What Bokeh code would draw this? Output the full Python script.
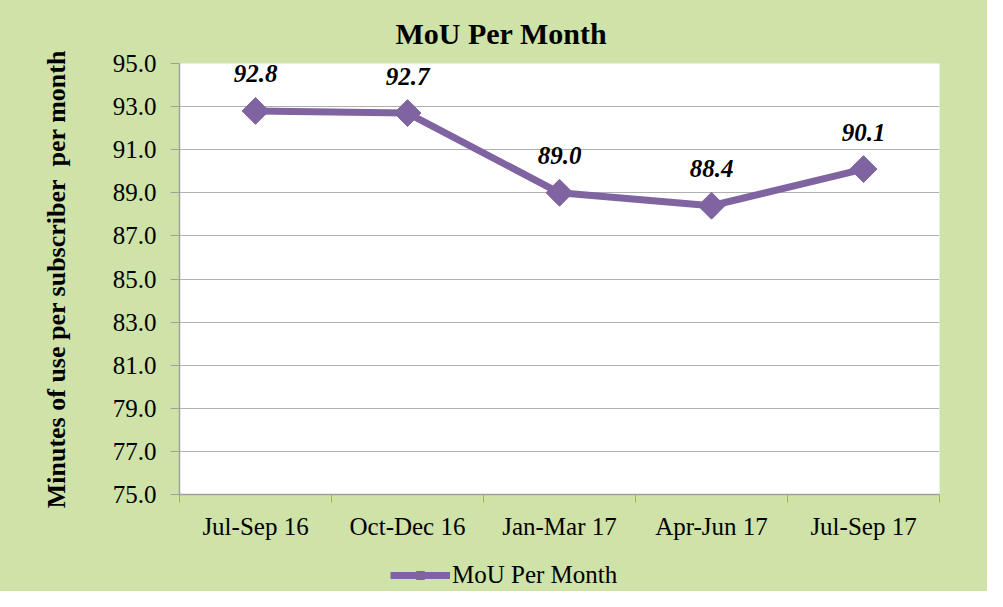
import math
from bokeh.plotting import figure
from bokeh.layouts import column
from bokeh.models import (FixedTicker, Legend, LegendItem, ColumnDataSource, Range1d,
                          CustomJSTickFormatter)
from bokeh.core.properties import value
from bokeh.embed import file_html
from bokeh.resources import INLINE

categories = ["Jul-Sep 16", "Oct-Dec 16", "Jan-Mar 17", "Apr-Jun 17", "Jul-Sep 17"]
mou = [92.8, 92.7, 89.0, 88.4, 90.1]
y_ticks = [75, 77, 79, 81, 83, 85, 87, 89, 91, 93, 95]
series_name = "MoU Per Month"

GREEN = "#cfe2a8"
PURPLE = "#8064a2"
SERIF = "Liberation Serif"

xs = list(range(1, len(categories) + 1))
src = ColumnDataSource(dict(x=xs, y=mou, lbl=["%.1f" % v for v in mou]))

p = figure(width=987, height=545, output_backend="svg", toolbar_location=None,
           x_range=Range1d(0.5, len(categories) + 0.5), y_range=Range1d(75, 95),
           min_border_left=179, min_border_right=48, min_border_top=62, min_border_bottom=51,
           styles={"background-color": GREEN})
p.background_fill_color = "white"
p.border_fill_color = GREEN
p.outline_line_color = None

p.title.text = "MoU Per Month"
p.title.text_font = SERIF
p.title.text_font_size = "30px"
p.title.text_font_style = "bold"
p.title.text_color = "black"
p.title.align = "left"
p.title.offset = 216
p.title.standoff = 28

# y axis
p.yaxis.ticker = FixedTicker(ticks=y_ticks)
p.yaxis.formatter = CustomJSTickFormatter(code="return tick.toFixed(1);")
p.yaxis.axis_label = "Minutes of use per subscriber\u00a0 per month"
p.yaxis.axis_label_text_font = SERIF
p.yaxis.axis_label_text_font_size = "26px"
p.yaxis.axis_label_text_font_style = "bold"
p.yaxis.axis_label_text_color = "black"
p.yaxis.axis_label_standoff = 39
p.yaxis.major_label_text_font = SERIF
p.yaxis.major_label_text_font_size = "25px"
p.yaxis.major_label_text_color = "black"
p.yaxis.major_label_standoff = 14
p.yaxis.major_tick_out = 9
p.yaxis.major_tick_in = 0
p.yaxis.minor_tick_line_color = None
p.yaxis.axis_line_color = "#a0a0a0"
p.yaxis.major_tick_line_color = "#a0a0a0"
p.yaxis.axis_line_width = 1.5

# x axis: labels at centres, tick marks between categories
p.xaxis.ticker = FixedTicker(ticks=xs, minor_ticks=[i + 0.5 for i in range(len(categories) + 1)])
p.xaxis.major_label_overrides = {i + 1: c for i, c in enumerate(categories)}
p.xaxis.major_tick_out = 0
p.xaxis.major_tick_in = 0
p.xaxis.minor_tick_out = 8
p.xaxis.minor_tick_in = 0
p.xaxis.minor_tick_line_color = "#a0a0a0"
p.xaxis.axis_line_color = "#a0a0a0"
p.xaxis.axis_line_width = 1.5
p.xaxis.major_label_text_font = SERIF
p.xaxis.major_label_text_font_size = "25px"
p.xaxis.major_label_text_color = "black"
p.xaxis.major_label_standoff = 10

p.xgrid.grid_line_color = None
p.ygrid.grid_line_color = "#b0b0b0"
p.ygrid.grid_line_width = 1

p.line("x", "y", source=src, line_color=PURPLE, line_width=7)
p.scatter("x", "y", source=src, marker="square", angle=math.pi / 4, size=19,
          fill_color=PURPLE, line_color=PURPLE)
p.text("x", "y", text="lbl", source=src, y_offset=-37, text_align="center",
       text_baseline="middle", text_font=value(SERIF), text_font_style="bold italic",
       text_font_size="25px", text_color="black")

# legend strip below the chart (its own renderers lie outside its ranges, so only the
# legend is visible there)
lf = figure(width=987, height=46, output_backend="svg", toolbar_location=None,
            x_axis_type=None, y_axis_type=None, x_range=Range1d(-2, -1), y_range=Range1d(-2, -1),
            min_border_left=0, min_border_right=0, min_border_top=0, min_border_bottom=0,
            styles={"background-color": GREEN})
lf.background_fill_color = None
lf.border_fill_color = None
lf.outline_line_color = None
lf.xgrid.visible = False
lf.ygrid.visible = False
l_ln = lf.line("x", "y", source=src, line_color=PURPLE, line_width=7)
l_mk = lf.scatter("x", "y", source=src, marker="square", angle=math.pi / 4, size=19,
                  fill_color=PURPLE, line_color=PURPLE)
legend = Legend(items=[LegendItem(label=series_name, renderers=[l_ln, l_mk])],
                location=(211, 2), orientation="horizontal",
                background_fill_alpha=0, border_line_color=None, label_text_font=SERIF,
                label_text_font_size="25px", label_text_color="black",
                glyph_width=60, glyph_height=20, padding=0, margin=0,
                label_standoff=2)
lf.add_layout(legend, "center")

layout = column(p, lf, spacing=0, styles={"background-color": GREEN})
open("out.html", "w").write(file_html(layout, INLINE))
